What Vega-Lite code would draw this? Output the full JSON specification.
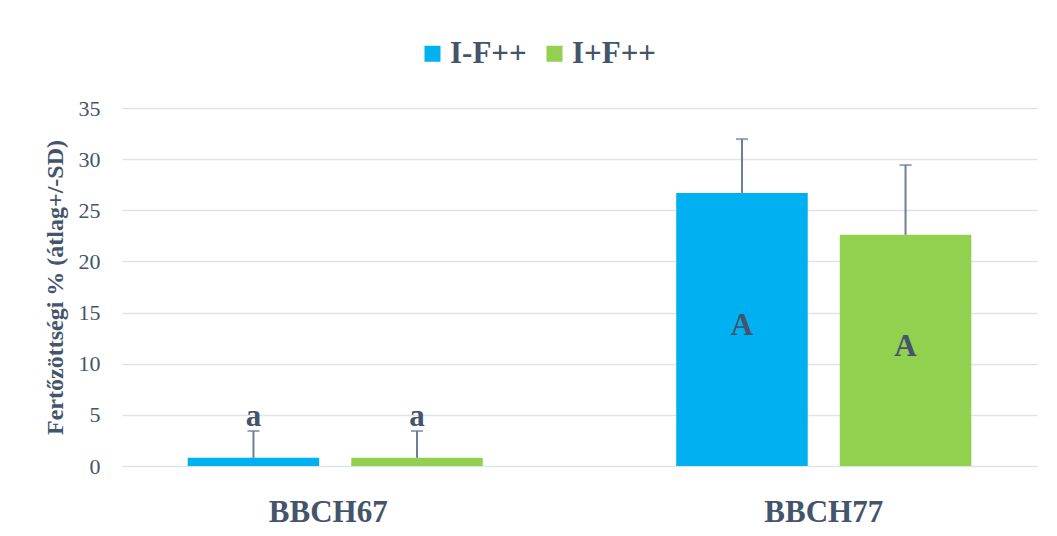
{
  "$schema": "https://vega.github.io/schema/vega-lite/v6.json",
  "width": 915,
  "height": 358,
  "autosize": {"type": "none"},
  "padding": {"left": 122, "top": 108, "right": 20, "bottom": 70},
  "background": "white",
  "config": {"font": "Liberation Serif", "view": {"stroke": null}},
  "data": {
    "values": [
      {"stage": "BBCH67", "treatment": "I-F++", "mean": 0.8, "upper": 3.42, "label": "a"},
      {"stage": "BBCH67", "treatment": "I+F++", "mean": 0.8, "upper": 3.42, "label": "a"},
      {"stage": "BBCH77", "treatment": "I-F++", "mean": 26.7, "upper": 31.96, "label": "A"},
      {"stage": "BBCH77", "treatment": "I+F++", "mean": 22.6, "upper": 29.42, "label": "A"}
    ]
  },
  "layer": [
    {
      "layer": [
        {
          "mark": {"type": "bar"},
          "encoding": {
            "x": {
              "field": "stage", "type": "nominal",
              "scale": {"paddingInner": 0.396, "paddingOuter": 0.1345},
              "axis": {"title": null, "labelAngle": 0, "labelFontSize": 31, "labelFontWeight": "bold", "labelColor": "#44546A", "labelPadding": 31, "ticks": false, "domain": false, "grid": false,
                "labelOffset": {"condition": {"test": "datum.value === 'BBCH67'", "value": -7}, "value": 0}}
            },
            "xOffset": {
              "field": "treatment", "type": "nominal",
              "scale": {"domain": ["I-F++", "I+F++"], "paddingInner": 0.196, "paddingOuter": 0}
            },
            "y": {
              "field": "mean", "type": "quantitative",
              "scale": {"domain": [0, 35], "nice": false},
              "axis": {
                "title": "Fertőzöttségi % (átlag+/-SD)",
                "titleFontSize": 24, "titleFontWeight": "bold", "titleColor": "#44546A", "titlePadding": 11,
                "values": [0, 5, 10, 15, 20, 25, 30, 35],
                "labelFontSize": 22, "labelColor": "#44546A", "labelPadding": 22,
                "ticks": false, "domain": false,
                "gridColor": "#DFE3EA", "gridWidth": 1.5
              }
            },
            "color": {
              "field": "treatment", "type": "nominal",
              "scale": {"domain": ["I-F++", "I+F++"], "range": ["#00B0F0", "#92D050"]},
              "legend": {
                "title": null, "orient": "none", "legendX": 295, "legendY": -70,
                "direction": "horizontal", "symbolType": "square", "symbolSize": 256,
                "symbolStrokeWidth": 0, "labelFontSize": 31, "labelFontWeight": "bold",
                "labelColor": "#44546A", "columnPadding": 12, "labelOffset": 2, "padding": 0
              }
            }
          }
        },
        {
          "mark": {"type": "rule", "color": "#6A7F9D", "strokeWidth": 2},
          "encoding": {
            "x": {"field": "stage", "type": "nominal"},
            "xOffset": {"field": "treatment", "type": "nominal"},
            "y": {"field": "mean", "type": "quantitative"},
            "y2": {"field": "upper"}
          }
        },
        {
          "mark": {"type": "tick", "color": "#6A7F9D", "size": 12, "thickness": 2},
          "encoding": {
            "x": {"field": "stage", "type": "nominal"},
            "xOffset": {"field": "treatment", "type": "nominal"},
            "y": {"field": "upper", "type": "quantitative"}
          }
        },
        {
          "transform": [{"filter": "datum.stage === 'BBCH67'"}],
          "mark": {"type": "text", "fontSize": 31, "fontWeight": "bold", "color": "#44546A", "baseline": "alphabetic", "dy": -5},
          "encoding": {
            "x": {"field": "stage", "type": "nominal"},
            "xOffset": {"field": "treatment", "type": "nominal"},
            "y": {"field": "upper", "type": "quantitative"},
            "text": {"field": "label"}
          }
        }
      ]
    },
    {
      "transform": [{"filter": "datum.stage === 'BBCH77'"}],
      "mark": {"type": "text", "fontSize": 31, "fontWeight": "bold", "color": "#44546A", "baseline": "alphabetic", "dy": 6},
      "encoding": {
        "x": {"field": "stage", "type": "nominal"},
        "xOffset": {"field": "treatment", "type": "nominal"},
        "y": {"field": "mean", "type": "quantitative", "scale": {"domain": [0, 70], "nice": false}, "axis": null},
        "text": {"field": "label"}
      }
    }
  ],
  "resolve": {"scale": {"y": "independent"}}
}
